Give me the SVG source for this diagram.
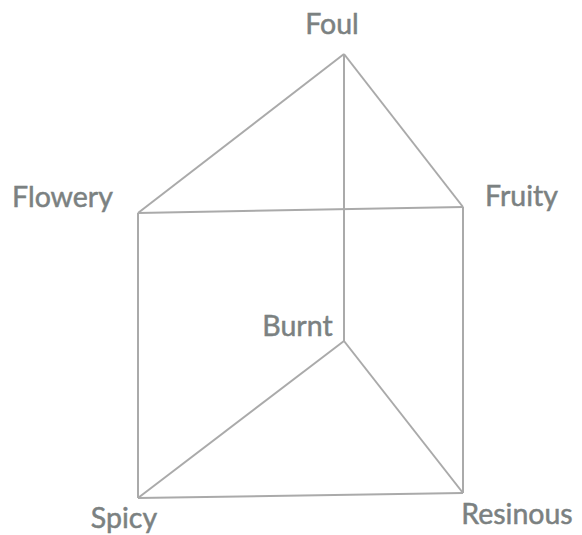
<svg xmlns="http://www.w3.org/2000/svg" width="582" height="535" viewBox="0 0 582 535">
<style>
.e{stroke:#aaaaaa;stroke-width:2;fill:none}
.t{font-family:Lato,"Noto Sans",sans-serif;font-size:28.5px;fill:#7b8181;stroke:#7b8181;stroke-width:0.5;text-anchor:middle}
</style>
<rect width="582" height="535" fill="#ffffff"/>
<g id="connectors">
<line class="e" x1="344" y1="54" x2="138" y2="213"/>
<line class="e" x1="344" y1="54" x2="463" y2="207"/>
<line class="e" x1="138" y1="213" x2="463" y2="207"/>
<line class="e" x1="344" y1="54" x2="344" y2="341"/>
<line class="e" x1="138" y1="213" x2="138" y2="498"/>
<line class="e" x1="463" y1="207" x2="463" y2="493"/>
<line class="e" x1="344" y1="341" x2="138" y2="498"/>
<line class="e" x1="344" y1="341" x2="463" y2="493"/>
<line class="e" x1="138" y1="498" x2="463" y2="493"/>
</g>
<g id="foul"><text class="t" x="332" y="34">Foul</text></g>
<g id="flowery"><text class="t" x="62.5" y="207">Flowery</text></g>
<g id="fruity"><text class="t" x="521.5" y="206">Fruity</text></g>
<g id="burnt"><text class="t" x="297.5" y="336">Burnt</text></g>
<g id="spicy"><text class="t" x="124" y="528">Spicy</text></g>
<g id="resinous"><text class="t" x="517" y="524">Resinous</text></g>
</svg>
